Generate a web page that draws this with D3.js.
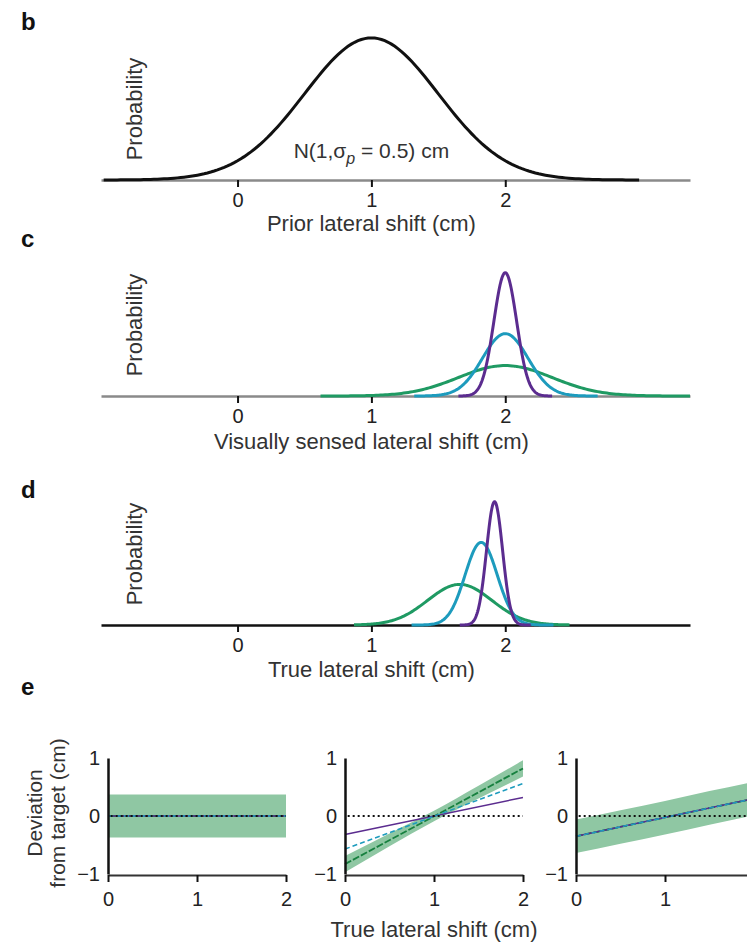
<!DOCTYPE html>
<html>
<head>
<meta charset="utf-8">
<script src="https://cdn.jsdelivr.net/npm/d3@7"></script>
<style>
  body { margin: 0; background: #fff; }
  text { font-family: "Liberation Sans", Arial, Helvetica, sans-serif; fill: #222; }
</style>
</head>
<body>
<div id="fig"></div>
<script>
// normal curves of panels b-d: mean, sd, relative peak height, drawn range (cm)
const priorMean = 1, priorSd = 0.5, priorPeak = 0.98, priorLo = -1, priorHi = 3;

const blurColors = ['#5b2c8f', '#1d9bbd', '#1f9a63'];   // small, medium, large blur

const sensedMeans = [2, 2, 2];
const sensedSds = [0.085, 0.17, 0.35];
const sensedPeaks = [0.85, 0.43, 0.21];
const sensedLo = [1.65, 1.32, 0.62];
const sensedHi = [2.35, 2.69, 3.38];

const trueMeans = [1.92, 1.82, 1.66];
const trueSds = [0.06, 0.12, 0.24];
const truePeaks = [0.85, 0.57, 0.28];
const trueLo = [1.66, 1.30, 0.87];
const trueHi = [2.19, 2.36, 2.48];

const shiftTicks = [0, 1, 2];
const devTicks = [-1, 0, 1];

// panel e: deviation at true shift 0 and 2 for each blur, plus green band
const lineX = [0, 2];
const fullCompLines = [[0, 0], [0, 0], [0, 0]];
const bayesLines = [[-0.32, 0.32], [-0.57, 0.56], [-0.83, 0.82]];
const mappingLines = [[-0.35, 0.30], [-0.35, 0.30], [-0.35, 0.30]];

const bandX = [0, 0.5, 1, 1.5, 2];
const fullCompBandLo = [-0.37, -0.37, -0.37, -0.37, -0.37];
const fullCompBandHi = [0.37, 0.37, 0.37, 0.37, 0.37];
const bayesBandLo = [-0.97, -0.52, -0.09, 0.30, 0.68];
const bayesBandHi = [-0.69, -0.30, 0.09, 0.52, 0.96];
const mappingBandLo = [-0.64, -0.48, -0.32, -0.15, 0.01];
const mappingBandHi = [-0.06, 0.10, 0.26, 0.43, 0.59];

const W = 747, H = 943;
const fmt = d3.format('d');
const svg = d3.select('#fig').append('svg')
  .attr('width', W)
  .attr('height', H);

let x = d3.scaleLinear().domain([-1.02, 3.38]).range([101, 690]);

function gauss(mean, sd, peak, lo, hi) {
  let pts = [];
  let n = 160;
  for (let i = 0; i <= n; i++) {
    let v = lo + (hi - lo) * i / n;
    pts.push({ x: v, p: peak * Math.exp(-(v - mean) * (v - mean) / (2 * sd * sd)) });
  }
  return pts;
}

function styleTicks(ax) {
  ax.selectAll('.tick text')
    .style('font-size', '20px')
    .style('font-family', '"Liberation Sans", Arial, sans-serif')
    .attr('fill', '#333');
}

function distPanel(axisY, axisColor, title, letter, letterY, titleOff) {
  let g = svg.append('g');
  let y = d3.scaleLinear().domain([0, 1]).range([axisY, axisY - 145]);

  g.append('text')
    .text(letter)
    .attr('x', 21)
    .attr('y', letterY)
    .style('font-weight', 'bold')
    .style('font-size', '24px')
    .style('fill', '#111');

  let ax = g.append('g')
    .attr('transform', 'translate(0,' + axisY + ')')
    .call(d3.axisBottom(x).tickValues(shiftTicks).tickFormat(fmt)
      .tickSize(7).tickSizeOuter(0).tickPadding(6));
  ax.select('.domain').attr('stroke', axisColor).attr('stroke-width', 2.5);
  ax.selectAll('.tick line').attr('stroke', '#111').attr('stroke-width', 2);
  styleTicks(ax);

  g.append('text')
    .text(title)
    .attr('x', x(1))
    .attr('y', axisY + titleOff)
    .attr('text-anchor', 'middle')
    .style('font-size', '22px')
    .style('fill', '#333');

  g.append('text')
    .text('Probability')
    .attr('transform', 'translate(142,' + (axisY - 71) + ') rotate(-90)')
    .attr('text-anchor', 'middle')
    .style('font-size', '22px')
    .style('fill', '#333');

  let line = d3.line()
    .x(d => x(d.x))
    .y(d => y(d.p));

  return { g: g, line: line };
}

// b: prior
let pb = distPanel(180, '#8a8a8a', 'Prior lateral shift (cm)', 'b', 30, 51);
pb.g.append('path')
  .datum(gauss(priorMean, priorSd, priorPeak, priorLo, priorHi))
  .attr('d', pb.line)
  .attr('fill', 'none')
  .attr('stroke', '#111')
  .attr('stroke-width', 3);

let nLabel = pb.g.append('text')
  .attr('x', x(1))
  .attr('y', 158)
  .attr('text-anchor', 'middle')
  .style('font-size', '21px')
  .style('fill', '#333');
nLabel.append('tspan').text('N(1,σ');
nLabel.append('tspan').text('p').attr('dy', 6).style('font-size', '16px').style('font-style', 'italic');
nLabel.append('tspan').text(' = 0.5) cm').attr('dy', -6);

// c: visually sensed
let pc = distPanel(396, '#8a8a8a', 'Visually sensed lateral shift (cm)', 'c', 247, 53);
for (let i = 2; i >= 0; i--) {
  pc.g.append('path')
    .datum(gauss(sensedMeans[i], sensedSds[i], sensedPeaks[i], sensedLo[i], sensedHi[i]))
    .attr('d', pc.line)
    .attr('fill', 'none')
    .attr('stroke', blurColors[i])
    .attr('stroke-width', 3);
}

// d: true lateral shift
let pd = distPanel(625, '#111', 'True lateral shift (cm)', 'd', 498, 52);
for (let i = 2; i >= 0; i--) {
  pd.g.append('path')
    .datum(gauss(trueMeans[i], trueSds[i], truePeaks[i], trueLo[i], trueHi[i]))
    .attr('d', pd.line)
    .attr('fill', 'none')
    .attr('stroke', blurColors[i])
    .attr('stroke-width', 3);
}

// e: predicted deviation, three models
svg.append('text')
  .text('e')
  .attr('x', 21)
  .attr('y', 695)
  .style('font-weight', 'bold')
  .style('font-size', '24px')
  .style('fill', '#111');

let yDev = d3.scaleLinear().domain([-1, 1]).range([874, 758]);

function modelPanel(x0, lines, bandLo, bandHi) {
  let xs = d3.scaleLinear().domain([0, 2]).range([x0, x0 + 178]);
  let g = svg.append('g');

  let band = bandX.map((v, i) => ({ x: v, lo: bandLo[i], hi: bandHi[i] }));
  g.append('path')
    .datum(band)
    .attr('d', d3.area().x(d => xs(d.x)).y0(d => yDev(d.lo)).y1(d => yDev(d.hi)).curve(d3.curveMonotoneX))
    .attr('fill', '#8fc7a3');

  let ln = d3.line().x(d => xs(d.x)).y(d => yDev(d.y));
  let styles = [
    { c: '#5b2c8f', w: 1.5, dash: null },
    { c: '#1d9bbd', w: 1.5, dash: '5,3' },
    { c: '#17803f', w: 1.8, dash: '7,2' }
  ];
  [2, 0, 1].forEach(function(i) {
    let pts = lineX.map((v, j) => ({ x: v, y: lines[i][j] }));
    g.append('path')
      .datum(pts)
      .attr('d', ln)
      .attr('fill', 'none')
      .attr('stroke', styles[i].c)
      .attr('stroke-width', styles[i].w)
      .attr('stroke-dasharray', styles[i].dash);
  });

  g.append('path')
    .datum([{ x: 0.03, y: 0 }, { x: 2, y: 0 }])
    .attr('d', ln)
    .attr('fill', 'none')
    .attr('stroke', '#111')
    .attr('stroke-width', 2)
    .attr('stroke-dasharray', '2,3');

  let ax = g.append('g')
    .attr('transform', 'translate(0,875)')
    .call(d3.axisBottom(xs).tickValues(shiftTicks).tickFormat(fmt)
      .tickSize(7).tickSizeOuter(0).tickPadding(10));
  ax.select('.domain').attr('stroke', '#333').attr('stroke-width', 2);
  ax.selectAll('.tick line').attr('stroke', '#111').attr('stroke-width', 2);
  styleTicks(ax);

  let ay = g.append('g')
    .attr('transform', 'translate(' + x0 + ',0)')
    .call(d3.axisLeft(yDev).tickValues(devTicks).tickFormat(fmt)
      .tickSize(0).tickSizeOuter(0).tickPadding(8));
  ay.select('.domain').attr('stroke', '#111').attr('stroke-width', 2.5);
  styleTicks(ay);

  return xs;
}

modelPanel(108, fullCompLines, fullCompBandLo, fullCompBandHi);
let xMid = modelPanel(345, bayesLines, bayesBandLo, bayesBandHi);
modelPanel(576, mappingLines, mappingBandLo, mappingBandHi);

svg.append('text')
  .text('True lateral shift (cm)')
  .attr('x', xMid(1))
  .attr('y', 937)
  .attr('text-anchor', 'middle')
  .style('font-size', '22px')
  .style('fill', '#333');

let devLabel = svg.append('text')
  .attr('transform', 'translate(0,813) rotate(-90)')
  .attr('text-anchor', 'middle')
  .style('font-size', '21px')
  .style('fill', '#333');
devLabel.append('tspan').text('Deviation').attr('x', 0).attr('y', 42);
devLabel.append('tspan').text('from target (cm)').attr('x', 0).attr('y', 65);
</script>
</body>
</html>
